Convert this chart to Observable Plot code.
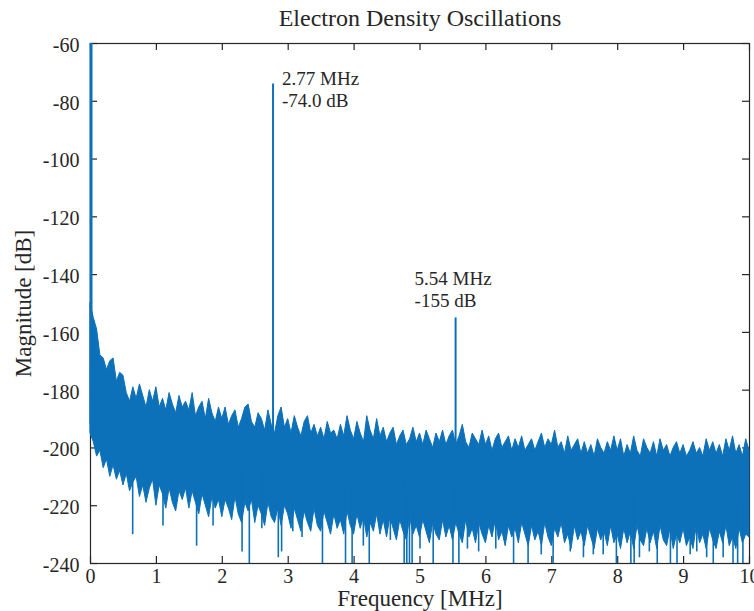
<!DOCTYPE html>
<html>
<head>
<meta charset="utf-8">
<script src="https://cdn.jsdelivr.net/npm/d3@7"></script>
<script src="https://cdn.jsdelivr.net/npm/@observablehq/plot@0.6"></script>
<style>
  html, body { margin: 0; padding: 0; background: #fff; }
  #chart { width: 754px; height: 611px; }
  #chart svg, #chart svg text { font-family: "Liberation Serif", "Times New Roman", Times, serif !important; }
</style>
</head>
<body>
<div id="chart"></div>
<script>
// ---- tick labels ----
const xTicks = [0, 1, 2, 3, 4, 5, 6, 7, 8, 9, 10];
const yTicks = [-240, -220, -200, -180, -160, -140, -120, -100, -80, -60];

// ---- noise floor: upper envelope (dB), one value every 0.05 MHz from 0 to 10 MHz ----
const upperDb = [
  -150, -155, -159, -168, -169, -173, -170, -169, -177, -174,
  -175, -181, -184, -179, -183, -178, -182, -186, -180, -184,
  -179, -186, -183, -187, -181, -185, -188, -182, -186, -184,
  -187, -181, -189, -186, -184, -190, -183, -188, -191, -186,
  -190, -186, -192, -189, -187, -193, -190, -186, -185, -191,
  -193, -188, -190, -194, -187, -192, -195, -189, -186, -193,
  -190, -195, -189, -193, -196, -191, -189, -195, -192, -196,
  -193, -197, -191, -195, -194, -197, -192, -196, -189, -194,
  -197, -191, -195, -198, -189, -194, -197, -190, -196, -193,
  -198, -195, -193, -199, -196, -194, -199, -197, -193, -198,
  -195, -199, -194, -197, -200, -195, -198, -194, -199, -196,
  -194, -199, -196, -192, -198, -200, -195, -197, -199, -194,
  -199, -196, -201, -197, -195, -200, -198, -196, -201, -197,
  -200, -196, -201, -199, -197, -201, -198, -195, -200, -197,
  -199, -194, -200, -198, -202, -196, -201, -199, -197, -202,
  -198, -202, -199, -203, -197, -200, -202, -198, -201, -196,
  -201, -197, -203, -199, -202, -196, -201, -203, -197, -200,
  -202, -198, -203, -197, -201, -199, -203, -200, -198, -202,
  -199, -203, -201, -198, -202, -200, -203, -197, -201, -198,
  -202, -199, -203, -197, -201, -196, -202, -199, -203, -197,
  -201
];

// ---- noise floor: lower envelope (dB), same frequency grid ----
const lowerDb = [
  -195, -198, -203, -201, -207, -204, -210, -206, -211, -208,
  -213, -209, -215, -212, -210, -217, -213, -219, -214, -211,
  -220, -213, -216, -221, -214, -219, -222, -215, -218, -214,
  -221, -215, -219, -223, -216, -220, -224, -217, -221, -218,
  -224, -218, -221, -225, -217, -223, -226, -219, -222, -218,
  -226, -220, -223, -227, -219, -224, -226, -221, -227, -220,
  -223, -228, -221, -225, -229, -222, -226, -229, -221, -227,
  -229, -222, -226, -230, -223, -228, -225, -230, -222, -227,
  -230, -223, -228, -224, -231, -226, -229, -223, -230, -225,
  -231, -224, -228, -232, -225, -229, -232, -224, -230, -227,
  -231, -225, -229, -233, -226, -230, -232, -225, -231, -227,
  -232, -226, -230, -233, -225, -231, -228, -233, -226, -230,
  -233, -227, -231, -225, -232, -229, -234, -227, -231, -228,
  -233, -226, -230, -234, -227, -232, -229, -234, -226, -231,
  -234, -228, -231, -226, -233, -230, -235, -227, -232, -229,
  -234, -227, -231, -235, -228, -232, -229, -234, -227, -233,
  -230, -235, -228, -233, -229, -235, -227, -232, -234, -228,
  -233, -229, -235, -227, -232, -234, -228, -235, -230, -233,
  -228, -234, -231, -235, -227, -233, -230, -235, -228, -232,
  -235, -229, -233, -227, -234, -231, -235, -228, -233, -230,
  -231
];

// ---- deep dips below the noise floor: frequency (MHz) and depth (dB) ----
const dipF  = [0.64, 1.10, 1.61, 1.86, 2.30, 2.41, 2.60, 2.85, 2.90, 3.07, 3.21, 3.52, 3.87, 3.97, 4.14, 4.23, 4.55, 4.76, 4.80, 4.84, 4.88, 5.00, 5.20, 5.50, 5.59, 5.72, 5.89, 6.15, 6.42, 6.64, 6.84, 7.02, 7.28, 7.48, 7.63, 7.78, 7.98, 8.20, 8.25, 8.33, 8.48, 8.60, 8.80, 8.90, 9.10, 9.20, 9.35, 9.45, 9.60, 9.75, 9.82, 9.90];
const dipDb = [-230, -227, -234, -227, -236, -240, -228, -238, -236, -229, -231, -240, -240, -240, -234, -240, -232, -240, -240, -240, -240, -235, -240, -240, -240, -235, -236, -235, -240, -240, -237, -240, -236, -238, -237, -237, -240, -240, -240, -238, -236, -240, -240, -240, -237, -236, -238, -240, -238, -240, -240, -240];

// ---- spectral lines ----
const toneF  = [0, 2.77, 5.54];
const toneDb = [-60, -74.0, -155];
const toneLabel = [null, "2.77 MHz\n-74.0 dB", "5.54 MHz\n-155 dB"];

const titleText = "Electron Density Oscillations";
const xLabelText = "Frequency [MHz]";
const yLabelText = "Magnitude [dB]";

// ---- tables built from the arrays ----
const step = 0.05;
const band = upperDb.map((hi, i) => ({f: +(i * step).toFixed(2), hi, lo: lowerDb[i]}));
const near = f => band[Math.min(band.length - 1, Math.round(f / step))];
const dips = dipF.map((f, i) => ({f, db: dipDb[i], from: (near(f).hi + near(f).lo) / 2}));
const tones = toneF.map((f, i) => ({f, db: toneDb[i], label: toneLabel[i], from: near(f).lo + 3}));

const W = 754, H = 611, mL = 90, mR = 5, mT = 43, mB = 48;
const pw = W - mL - mR, ph = H - mT - mB;
const blue = "#0C71B9", ink = "#262626";
const font = "Liberation Serif";

const chart = Plot.plot({
  width: W, height: H,
  marginLeft: mL, marginRight: mR, marginTop: mT, marginBottom: mB,
  style: {fontFamily: font, background: "#fff", color: ink, overflow: "visible"},
  x: {domain: [0, 10]},
  y: {domain: [-240, -60]},
  marks: [
    Plot.frame({stroke: ink, strokeWidth: 1.2}),
    // inward ticks on all four sides
    Plot.ruleX(xTicks, {x: d => d, insetTop: ph - 7, stroke: ink, strokeWidth: 1.2}),
    Plot.ruleX(xTicks, {x: d => d, insetBottom: ph - 7, stroke: ink, strokeWidth: 1.2}),
    Plot.ruleY(yTicks, {y: d => d, insetRight: pw - 7, stroke: ink, strokeWidth: 1.2}),
    Plot.ruleY(yTicks, {y: d => d, insetLeft: pw - 7, stroke: ink, strokeWidth: 1.2}),
    Plot.axisX({ticks: xTicks, tickSize: 0, tickPadding: 5, fontSize: 20, fontFamily: font, label: null, tickFormat: d => String(d)}),
    Plot.axisY({ticks: yTicks, tickSize: 0, tickPadding: 11, fontSize: 20, fontFamily: font, label: null, tickFormat: d => String(d), dy: 2}),
    // data
    Plot.areaY(band, {x: "f", y1: "lo", y2: "hi", fill: blue, stroke: blue, strokeWidth: 1}),
    Plot.ruleX(dips, {x: "f", y1: "from", y2: "db", stroke: blue, strokeWidth: 1.6}),
    Plot.ruleX(tones.filter(d => d.f > 0), {x: "f", y1: "from", y2: "db", stroke: blue, strokeWidth: 2}),
    Plot.ruleX(tones.filter(d => d.f === 0), {x: "f", y1: "from", y2: "db", stroke: blue, strokeWidth: 3, dx: 0.5}),
    // annotations
    Plot.text(tones.filter(d => d.f === 2.77), {x: "f", y: "db", text: "label", textAnchor: "start", lineAnchor: "top", lineHeight: 1.14, fontSize: 19, fontFamily: font, fill: ink, dx: 9, dy: -14}),
    Plot.text(tones.filter(d => d.f === 5.54), {x: "f", y: "db", text: "label", textAnchor: "start", lineAnchor: "top", lineHeight: 1.14, fontSize: 19, fontFamily: font, fill: ink, dx: -41, dy: -48}),
    // title & axis labels
    Plot.text([titleText], {text: d => d, frameAnchor: "top", textAnchor: "middle", lineAnchor: "middle", dy: -25, fontSize: 24, fontFamily: font, fill: ink}),
    Plot.text([xLabelText], {text: d => d, frameAnchor: "bottom", textAnchor: "middle", lineAnchor: "middle", dy: 35, fontSize: 23, fontFamily: font, fill: ink}),
    Plot.text([yLabelText], {text: d => d, frameAnchor: "left", rotate: -90, textAnchor: "middle", lineAnchor: "middle", dx: -67, fontSize: 23, fontFamily: font, fill: ink})
  ]
});
document.getElementById("chart").appendChild(chart);
</script>
</body>
</html>
